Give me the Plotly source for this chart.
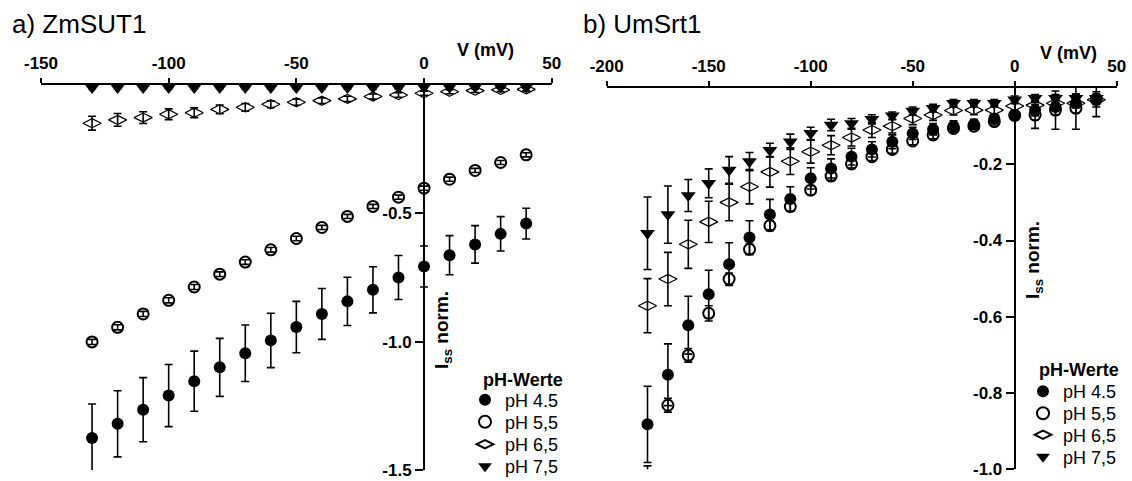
import plotly.graph_objects as go

# ---------------- data ----------------
SERIES_NAMES = ["pH 4.5", "pH 5,5", "pH 6,5", "pH 7,5"]

# panel a) ZmSUT1
V_A = [-130, -120, -110, -100, -90, -80, -70, -60, -50, -40, -30, -20, -10, 0, 10, 20, 30, 40]
A_PH45 = [-1.375, -1.320, -1.265, -1.210, -1.154, -1.100, -1.045, -0.995, -0.943, -0.892,
          -0.843, -0.798, -0.750, -0.707, -0.663, -0.621, -0.580, -0.540]
A_PH45_ERR = [0.132, 0.129, 0.125, 0.121, 0.117, 0.113, 0.110, 0.106, 0.100, 0.099,
              0.094, 0.090, 0.086, 0.080, 0.076, 0.073, 0.067, 0.060]
A_PH55 = [-1.001, -0.944, -0.892, -0.839, -0.787, -0.737, -0.690, -0.642, -0.598, -0.555,
          -0.512, -0.473, -0.437, -0.402, -0.367, -0.333, -0.302, -0.272]
A_PH55_ERR = [0.010, 0.010, 0.010, 0.010, 0.010, 0.009, 0.009, 0.009, 0.009, 0.008,
              0.008, 0.008, 0.008, 0.008, 0.008, 0.008, 0.008, 0.008]
A_PH65 = [-0.149, -0.136, -0.127, -0.114, -0.108, -0.095, -0.087, -0.075, -0.067, -0.061,
          -0.054, -0.045, -0.039, -0.032, -0.026, -0.022, -0.019, -0.017]
A_PH65_ERR = [0.027, 0.025, 0.023, 0.021, 0.019, 0.017, 0.015, 0.013, 0.012, 0.011,
              0.010, 0.010, 0.009, 0.008, 0.008, 0.007, 0.007, 0.006]
A_PH75 = [-0.010, -0.010, -0.010, -0.010, -0.010, -0.010, -0.010, -0.010, -0.010, -0.010,
          -0.010, -0.010, -0.010, -0.008, -0.008, -0.008, -0.008, -0.008]
A_PH75_ERR = [0.004] * 18

# panel b) UmSrt1
V_B = [-180, -170, -160, -150, -140, -130, -120, -110, -100, -90, -80, -70, -60, -50,
       -40, -30, -20, -10, 0, 10, 20, 30, 40]
B_PH45 = [-0.882, -0.752, -0.622, -0.541, -0.462, -0.392, -0.332, -0.291, -0.237, -0.211,
          -0.180, -0.161, -0.141, -0.119, -0.108, -0.100, -0.095, -0.080, -0.071, -0.058,
          -0.050, -0.040, -0.027]
B_PH45_ERR = [0.100, 0.081, 0.076, 0.063, 0.056, 0.044, 0.040, 0.032, 0.028, 0.025,
              0.022, 0.020, 0.018, 0.016, 0.015, 0.014, 0.013, 0.012, 0.012, 0.015,
              0.020, 0.025, 0.048]
B_PH55 = [-1.001, -0.832, -0.701, -0.591, -0.501, -0.423, -0.361, -0.311, -0.268, -0.231,
          -0.199, -0.180, -0.161, -0.139, -0.123, -0.106, -0.100, -0.088, -0.072, -0.071,
          -0.058, -0.053, -0.030]
B_PH55_ERR = [0.010, 0.018, 0.018, 0.020, 0.016, 0.014, 0.013, 0.012, 0.012, 0.011,
              0.011, 0.010, 0.010, 0.010, 0.010, 0.010, 0.009, 0.009, 0.009, 0.035,
              0.050, 0.055, 0.020]
B_PH65 = [-0.571, -0.501, -0.410, -0.351, -0.300, -0.259, -0.220, -0.192, -0.167, -0.150,
          -0.130, -0.110, -0.100, -0.080, -0.071, -0.059, -0.058, -0.058, -0.047, -0.045,
          -0.040, -0.040, -0.031]
B_PH65_ERR = [0.071, 0.070, 0.063, 0.054, 0.048, 0.045, 0.040, 0.035, 0.030, 0.025,
              0.022, 0.020, 0.018, 0.016, 0.014, 0.012, 0.012, 0.012, 0.012, 0.012,
              0.012, 0.012, 0.012]
B_PH75 = [-0.381, -0.332, -0.282, -0.250, -0.215, -0.193, -0.163, -0.141, -0.119, -0.097,
          -0.093, -0.082, -0.073, -0.060, -0.053, -0.040, -0.040, -0.040, -0.031, -0.027,
          -0.027, -0.027, -0.027]
B_PH75_ERR = [0.095, 0.075, 0.042, 0.038, 0.035, 0.024, 0.018, 0.020, 0.016, 0.015,
              0.013, 0.012, 0.010, 0.010, 0.010, 0.010, 0.010, 0.010, 0.010, 0.010,
              0.010, 0.010, 0.010]

# tick labels
XTICKS_A = [-150, -100, -50, 0, 50]
XTICKTEXT_A = ["-150", "-100", "-50", "0", "50"]
YTICKS_A = [-1.5, -1.0, -0.5]
YTICKTEXT_A = ["-1.5", "-1.0", "-0.5"]
XTICKS_B = [-200, -150, -100, -50, 0, 50]
XTICKTEXT_B = ["-200", "-150", "-100", "-50", "0", "50"]
YTICKS_B = [-1.0, -0.8, -0.6, -0.4, -0.2]
YTICKTEXT_B = ["-1.0", "-0.8", "-0.6", "-0.4", "-0.2"]

# ---------------- styling ----------------
W, H = 1132, 481
FONT = "Liberation Sans, Arial, sans-serif"
BLACK = "#000000"

XR_A, YR_A = [-150, 50], [-1.5, 0]
XR_B, YR_B = [-200, 50], [-1.0, 0]

XDOM_A = [41 / W, 551.7 / W]
YDOM_A = [(H - 470) / H, (H - 85) / H]
XDOM_B = [606.7 / W, 1116.7 / W]
YDOM_B = [(H - 469.3) / H, (H - 88) / H]

# legend rows (pixel centres) for each panel
LEG_ROWS_A = [400, 422, 444.5, 466.5]
LEG_ROWS_B = [391.5, 413.5, 435, 457]
LEG_X_A = 465
LEG_X_B = 1023


def zero_pos(dom, rng):
    return dom[0] + (0 - rng[0]) / (rng[1] - rng[0]) * (dom[1] - dom[0])


MARKERS = [
    dict(symbol="circle", size=12, color=BLACK),
    dict(symbol="circle-open", size=11, color=BLACK, line=dict(width=2, color=BLACK)),
    dict(symbol="diamond-wide-open", size=13, color=BLACK, line=dict(width=1.2, color=BLACK)),
    dict(symbol="triangle-down", size=13, color=BLACK),
]

fig = go.Figure()
legend_layout = {}
legend_font = dict(family=FONT, size=18, color=BLACK)
leg_counter = [0]


def add_series(xs, ys, errs, idx, xa, ya, leg_x, leg_y):
    leg_counter[0] += 1
    key = "legend" if leg_counter[0] == 1 else "legend%d" % leg_counter[0]
    legend_layout[key] = dict(x=leg_x / W, y=(H - leg_y) / H, xanchor="left",
                              yanchor="middle", bgcolor="rgba(0,0,0,0)",
                              font=legend_font, itemsizing="constant")
    fig.add_trace(go.Scatter(
        x=xs, y=ys, mode="markers", name=SERIES_NAMES[idx],
        marker=MARKERS[idx],
        error_y=dict(type="data", array=errs, visible=True, color=BLACK,
                     thickness=1.6, width=4),
        xaxis=xa, yaxis=ya, legend=key, cliponaxis=False,
    ))


for i, (ys, es) in enumerate([(A_PH45, A_PH45_ERR), (A_PH55, A_PH55_ERR),
                              (A_PH65, A_PH65_ERR), (A_PH75, A_PH75_ERR)]):
    add_series(V_A, ys, es, i, "x", "y", LEG_X_A, LEG_ROWS_A[i])
for i, (ys, es) in enumerate([(B_PH45, B_PH45_ERR), (B_PH55, B_PH55_ERR),
                              (B_PH65, B_PH65_ERR), (B_PH75, B_PH75_ERR)]):
    add_series(V_B, ys, es, i, "x2", "y2", LEG_X_B, LEG_ROWS_B[i])

tickfont = dict(family=FONT, size=17, color=BLACK, weight="bold")

xcommon = dict(side="top", showgrid=False, zeroline=False, showline=True, linewidth=2,
               linecolor=BLACK, ticks="outside", ticklen=5, tickwidth=2, tickcolor=BLACK,
               tickfont=tickfont, ticklabelstandoff=2, automargin=False)
ycommon = dict(showgrid=False, zeroline=False, showline=True, linewidth=2, linecolor=BLACK,
               ticks="outside", ticklen=8, tickwidth=2, tickcolor=BLACK, tickfont=tickfont,
               side="left", anchor="free", automargin=False)

fig.update_layout(
    width=W, height=H, margin=dict(l=0, r=0, t=0, b=0, autoexpand=False),
    paper_bgcolor="white", plot_bgcolor="white",
    font=dict(family=FONT, color=BLACK),
    xaxis=dict(domain=XDOM_A, range=XR_A, anchor="y", tickvals=XTICKS_A,
               ticktext=XTICKTEXT_A, **xcommon),
    yaxis=dict(domain=YDOM_A, range=YR_A, position=zero_pos(XDOM_A, XR_A),
               tickvals=YTICKS_A, ticktext=YTICKTEXT_A, **ycommon),
    xaxis2=dict(domain=XDOM_B, range=XR_B, anchor="y2", tickvals=XTICKS_B,
                ticktext=XTICKTEXT_B, **xcommon),
    yaxis2=dict(domain=YDOM_B, range=YR_B, position=zero_pos(XDOM_B, XR_B),
                tickvals=YTICKS_B, ticktext=YTICKTEXT_B, **ycommon),
    # overlay axes giving the inward half of the crossing x ticks
    xaxis3=dict(overlaying="x", anchor="y", side="top", range=XR_A, tickvals=XTICKS_A,
                showticklabels=False, ticks="inside", ticklen=5, tickwidth=2,
                tickcolor=BLACK, showgrid=False, zeroline=False, showline=False),
    xaxis4=dict(overlaying="x2", anchor="y2", side="top", range=XR_B, tickvals=XTICKS_B,
                showticklabels=False, ticks="inside", ticklen=5, tickwidth=2,
                tickcolor=BLACK, showgrid=False, zeroline=False, showline=False),
    showlegend=True,
    **legend_layout,
)

ann_common = dict(showarrow=False, xref="paper", yref="paper")
annotations = [
    dict(text="a) ZmSUT1", x=10 / W, y=(H - 24) / H, xanchor="left", yanchor="middle",
         font=dict(family=FONT, size=26, color=BLACK), **ann_common),
    dict(text="b) UmSrt1", x=581 / W, y=(H - 24) / H, xanchor="left", yanchor="middle",
         font=dict(family=FONT, size=26, color=BLACK), **ann_common),
    dict(text="V (mV)", x=455 / W, y=(H - 50) / H, xanchor="left", yanchor="middle",
         font=dict(family=FONT, size=18, color=BLACK, weight="bold"), **ann_common),
    dict(text="V (mV)", x=1038 / W, y=(H - 53) / H, xanchor="left", yanchor="middle",
         font=dict(family=FONT, size=18, color=BLACK, weight="bold"), **ann_common),
    dict(text="I<sub>ss</sub> norm.", x=443 / W, y=(H - 330) / H, textangle=-90,
         xanchor="center", yanchor="middle",
         font=dict(family=FONT, size=19, color=BLACK, weight="bold"), **ann_common),
    dict(text="I<sub>ss</sub> norm.", x=1034 / W, y=(H - 260) / H, textangle=-90,
         xanchor="center", yanchor="middle",
         font=dict(family=FONT, size=19, color=BLACK, weight="bold"), **ann_common),
    dict(text="pH-Werte", x=481 / W, y=(H - 380) / H, xanchor="left", yanchor="middle",
         font=dict(family=FONT, size=18, color=BLACK, weight="bold"), **ann_common),
    dict(text="pH-Werte", x=1037 / W, y=(H - 370) / H, xanchor="left", yanchor="middle",
         font=dict(family=FONT, size=18, color=BLACK, weight="bold"), **ann_common),
]
fig.update_layout(annotations=annotations)

fig.write_html("out.html")
